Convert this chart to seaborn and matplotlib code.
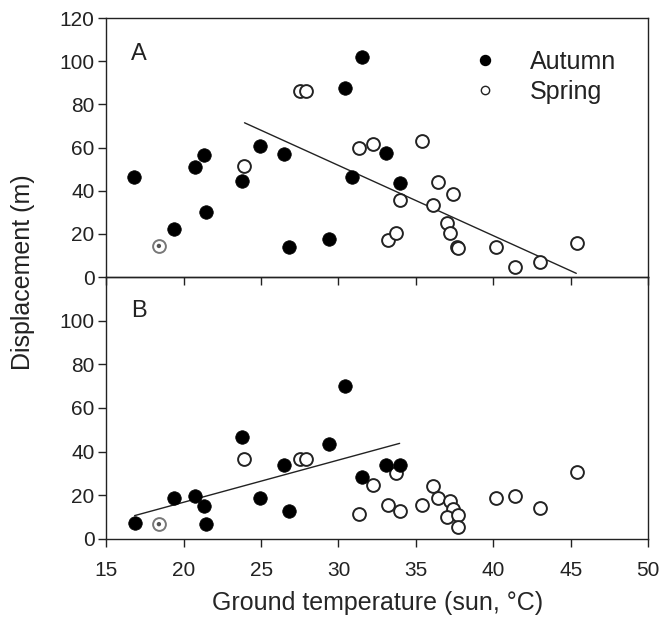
import numpy as np
import pandas as pd
import seaborn as sns
import matplotlib.pyplot as plt
from matplotlib.lines import Line2D

# Panel A: displacement vs ground temperature
autumn_x_a = [16.8, 19.4, 20.75, 21.3, 21.46, 23.77, 24.9, 26.5, 26.8, 29.36, 30.4, 31.5, 30.9, 33.1, 33.95]
autumn_y_a = [46.5, 22.4, 51.1, 56.4, 30.0, 44.6, 60.7, 56.8, 14.0, 17.5, 87.4, 101.8, 46.2, 57.6, 43.7]
spring_x_a = [23.9, 27.5, 27.9, 31.3, 32.2, 35.4, 36.4, 37.4, 33.95, 36.1, 37.0, 37.2, 37.65, 37.75,
              33.2, 33.7, 40.2, 41.4, 43.0, 45.4]
spring_y_a = [51.6, 86.2, 86.2, 59.9, 61.5, 63.0, 44.2, 38.3, 35.7, 33.4, 24.9, 20.2, 13.8, 13.4,
              17.1, 20.2, 14.0, 4.8, 7.1, 15.6]
fit_x_a = [23.93, 45.36]
fit_y_a = [71.5, 1.7]

# Panel B
autumn_x_b = [16.83, 19.4, 20.75, 21.3, 21.46, 23.77, 24.9, 26.5, 26.8, 29.36, 30.4, 31.5, 33.1, 33.95]
autumn_y_b = [7.5, 18.9, 19.5, 14.9, 6.8, 46.7, 18.8, 33.8, 12.9, 43.6, 70.2, 28.3, 33.8, 33.8]
spring_x_b = [23.9, 27.5, 27.9, 31.3, 32.2, 33.7, 33.2, 33.95, 35.4, 36.1, 36.4, 37.2, 37.4, 37.0,
              37.7, 37.7, 40.2, 41.4, 43.0, 45.4]
spring_y_b = [36.7, 36.7, 36.7, 11.5, 24.9, 30.3, 15.7, 12.6, 15.7, 24.4, 18.8, 17.5, 13.7, 10.0,
              11.1, 5.7, 18.8, 19.8, 14.1, 30.5]
fit_x_b = [16.83, 33.95]
fit_y_b = [10.7, 43.8]

# point where both seasons coincide
both_x = [18.4]
both_y_a = [14.4]
both_y_b = [6.8]

sns.set_style("ticks")
plt.rcParams['font.family'] = ['Liberation Sans', 'DejaVu Sans']
ink = "#222222"
plt.rcParams.update({
    "axes.edgecolor": ink, "axes.linewidth": 1.0,
    "xtick.color": ink, "ytick.color": ink,
    "xtick.labelcolor": ink, "ytick.labelcolor": ink,
    "xtick.major.size": 6, "ytick.major.size": 5.5,
    "xtick.major.width": 1.0, "ytick.major.width": 1.0,
    "xtick.major.pad": 10, "ytick.major.pad": 3,
    "xtick.labelsize": 15, "ytick.labelsize": 15,
    "text.color": ink,
})

fig = plt.figure(figsize=(6.6, 6.26), dpi=100)
ax_a = fig.add_axes([0.161, 0.5575, 0.821, 0.4135])
ax_b = fig.add_axes([0.161, 0.139, 0.821, 0.4185])
ax_b.set_facecolor("none")


def draw_panel(ax, ax_x, ay, sx, sy, fx, fy, by):
    sns.lineplot(x=fx, y=fy, ax=ax, color=ink, linewidth=1.0, legend=False)
    sns.scatterplot(x=sx, y=sy, ax=ax, s=85, facecolor="white", edgecolor=ink,
                    linewidth=1.4, zorder=3, legend=False)
    sns.scatterplot(x=ax_x, y=ay, ax=ax, s=95, color="black", edgecolor="black",
                    linewidth=0.5, zorder=4, legend=False)
    sns.scatterplot(x=both_x, y=by, ax=ax, s=85, facecolor="white", edgecolor="#777777",
                    linewidth=1.4, zorder=3, legend=False)
    sns.scatterplot(x=both_x, y=by, ax=ax, s=10, color="#555555", edgecolor="none",
                    zorder=4, legend=False)
    ax.set_xlim(15, 50)
    ax.set_ylim(0, 120)
    ax.set_xticks(np.arange(15, 51, 5))
    ax.set_xlabel("")
    ax.set_ylabel("")
    ax.tick_params(direction="out", top=False, right=False)


draw_panel(ax_a, autumn_x_a, autumn_y_a, spring_x_a, spring_y_a, fit_x_a, fit_y_a, both_y_a)
draw_panel(ax_b, autumn_x_b, autumn_y_b, spring_x_b, spring_y_b, fit_x_b, fit_y_b, both_y_b)

ax_a.set_yticks(np.arange(0, 121, 20))
ax_a.tick_params(axis="x", labelbottom=False)
ax_b.set_yticks(np.arange(0, 101, 20))

ax_a.text(16.6, 103.5, "A", fontsize=17, va="center", ha="left")
ax_b.text(16.6, 104.5, "B", fontsize=17, va="center", ha="left")

handles = [
    Line2D([], [], marker="o", linestyle="none", markersize=7.2, markerfacecolor="black",
           markeredgecolor="black", label="Autumn"),
    Line2D([], [], marker="o", linestyle="none", markersize=6, markerfacecolor="white",
           markeredgecolor=ink, markeredgewidth=1.0, label="Spring"),
]
ax_a.legend(handles=handles, loc="upper left", bbox_to_anchor=(0.653, 0.877), frameon=False,
            fontsize=18, handletextpad=0.8, labelspacing=0.25, borderpad=0, borderaxespad=0)

ax_b.set_xlabel("Ground temperature (sun, °C)", fontsize=18, labelpad=8)
fig.text(0.035, 0.565, "Displacement (m)", rotation=90, fontsize=18, va="center", ha="center")

plt.savefig("out.png", dpi=100, facecolor="white")
